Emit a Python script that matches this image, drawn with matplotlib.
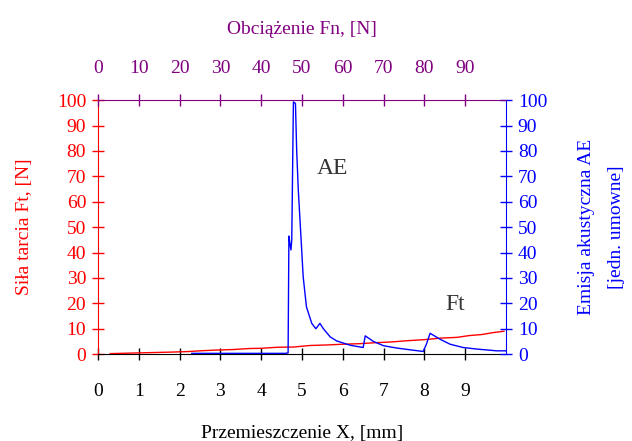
import matplotlib
matplotlib.use("Agg")
import matplotlib.pyplot as plt

plt.rcParams['font.family'] = ['Liberation Serif', 'DejaVu Serif']

# Friction force Ft [N] vs displacement X [mm]
ft_x = [0.3, 0.8, 1.3, 1.8, 2.2, 2.5, 2.9, 3.3, 3.7, 4.0, 4.4, 4.8, 5.2, 5.6,
        6.0, 6.4, 6.8, 7.2, 7.6, 8.0, 8.4, 8.8, 9.1, 9.4, 9.7, 9.95]
ft_y = [0.2, 0.4, 0.6, 0.8, 1.0, 1.3, 1.6, 1.8, 2.2, 2.3, 2.7, 2.8, 3.4, 3.6,
        3.9, 4.1, 4.5, 4.8, 5.3, 5.7, 6.3, 6.6, 7.3, 7.7, 8.5, 9.0]

# Acoustic emission AE [arbitrary units] vs displacement X [mm]
ae_x = [2.3, 4.6, 4.66, 4.68, 4.70, 4.73, 4.75, 4.79, 4.84, 4.87, 4.91, 4.97,
        5.03, 5.11, 5.24, 5.34, 5.44, 5.52, 5.69, 5.85, 6.18, 6.50, 6.55,
        6.75, 7.0, 7.32, 7.65, 7.97, 8.05, 8.14, 8.38, 8.63, 8.95, 9.28, 9.77, 10.0]
ae_y = [0.3, 0.3, 0.5, 46.5, 44.0, 41.0, 45.0, 99.3, 98.7, 80.3, 64.6, 47.6,
        30.4, 18.6, 12.1, 10.0, 12.1, 10.1, 6.8, 5.2, 3.5, 2.6, 7.2,
        5.0, 3.3, 2.4, 1.7, 1.05, 3.9, 8.2, 5.9, 3.9, 2.6, 2.0, 1.3, 1.3]

x_ticks = [0, 1, 2, 3, 4, 5, 6, 7, 8, 9]
y_ticks = [0, 10, 20, 30, 40, 50, 60, 70, 80, 90, 100]
fn_labels = ['0', '10', '20', '30', '40', '50', '60', '70', '80', '90']

RED = '#ff0000'
BLUE = '#0000ff'
PURPLE = '#800080'

fig = plt.figure(figsize=(6.32, 4.41), dpi=100)
ax = fig.add_axes([0.155, 0.197, 0.6456, 0.576])
ax.plot(ft_x, ft_y, color=RED, lw=1.0, zorder=3)
ax.set_xlim(0, 10)
ax.set_ylim(0, 100)
ax.set_xticks(x_ticks)
ax.set_yticks(y_ticks)
ax.tick_params(axis='x', colors='black', direction='inout', length=9, width=1,
               labelsize=14, pad=16)
ax.tick_params(axis='y', colors=RED, direction='inout', length=9, width=1,
               labelsize=14, pad=4)
ax.set_xlabel('Przemieszczenie X, [mm]', fontsize=14, color='black', labelpad=18)
ax.set_ylabel('Siła tarcia Ft, [N]', fontsize=14, color=RED, labelpad=17)
ax.spines['left'].set_color(RED)
ax.spines['bottom'].set_color('black')
ax.spines['top'].set_visible(False)
ax.spines['right'].set_visible(False)

ax2 = ax.twinx()
ax2.plot(ae_x, ae_y, color=BLUE, lw=1.0, zorder=2)
ax2.set_ylim(0, 100)
ax2.set_yticks(y_ticks)
ax2.tick_params(axis='y', colors=BLUE, direction='inout', length=9, width=1,
                labelsize=14, pad=4)
ax2.set_ylabel('Emisja akustyczna AE\n[jedn. umowne]', fontsize=14, color=BLUE,
               labelpad=22, linespacing=2.0)
ax2.spines['right'].set_color(BLUE)
for s in ['left', 'top', 'bottom']:
    ax2.spines[s].set_visible(False)

ax3 = ax.twiny()
ax3.set_xlim(0, 10)
ax3.set_xticks(x_ticks)
ax3.set_xticklabels(fn_labels)
ax3.tick_params(axis='x', colors=PURPLE, direction='inout', length=9, width=1,
                labelsize=14, pad=12)
ax3.set_xlabel('Obciążenie Fn, [N]', fontsize=14, color=PURPLE, labelpad=19)
ax3.spines['top'].set_color(PURPLE)
for s in ['left', 'right', 'bottom']:
    ax3.spines[s].set_visible(False)

ax.text(5.75, 73, 'AE', fontsize=17, color='#333333', ha='center', va='center')
ax.text(8.75, 19.5, 'Ft', fontsize=17, color='#333333', ha='center', va='center')

fig.savefig('out.png', dpi=100)
